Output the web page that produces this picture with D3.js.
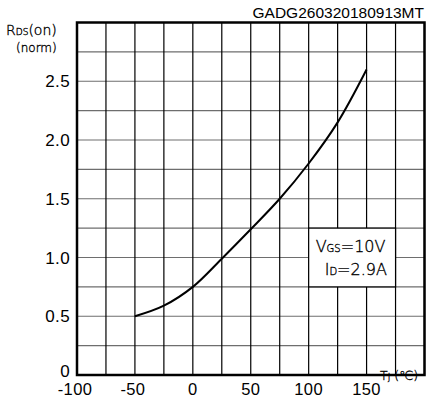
<!DOCTYPE html>
<html>
<head>
<meta charset="utf-8">
<script src="https://cdn.jsdelivr.net/npm/d3@7"></script>
<style>
  body { margin: 0; background: #fff; }
  svg { display: block; }
  text { font-family: "Liberation Sans", Arial, sans-serif; fill: #000; }
  .thin { font-family: "DejaVu Sans", sans-serif; font-weight: 200; fill: #000; stroke: #000; stroke-width: 0.35px; }
</style>
</head>
<body>
<div id="chart"></div>
<script>
// temperature (C) vs normalized on-resistance
const temps = [-50, -25, 0, 25, 50, 75, 100, 125, 150];
const rdsNorm = [0.5, 0.59, 0.75, 0.99, 1.24, 1.5, 1.8, 2.15, 2.6];

const xTicks = [-100, -50, 0, 50, 100, 150];
const yTicks = [0, 0.5, 1.0, 1.5, 2.0, 2.5];
const xGrid = d3.range(-100, 201, 25);
const yGrid = d3.range(0, 3.01, 0.25);

const width = 432, height = 405;
const plotL = 77, plotR = 424.5, plotT = 22.5, plotB = 375;

const svg = d3.select("#chart").append("svg")
    .attr("width", width)
    .attr("height", height);

const x = d3.scaleLinear().domain([-100, 200]).range([plotL, plotR]);
const y = d3.scaleLinear().domain([0, 3]).range([plotB, plotT]);

// grid
svg.append("g").selectAll("line")
    .data(yGrid)
    .enter().append("line")
    .attr("x1", plotL).attr("x2", plotR)
    .attr("y1", d => y(d)).attr("y2", d => y(d))
    .attr("stroke", "#6e6e6e")
    .attr("stroke-width", 1.2);

svg.append("g").selectAll("line")
    .data(xGrid)
    .enter().append("line")
    .attr("x1", d => x(d)).attr("x2", d => x(d))
    .attr("y1", plotT).attr("y2", plotB)
    .attr("stroke", "#000")
    .attr("stroke-width", 1.2);

// condition box (covers grid)
svg.append("rect")
    .attr("x", x(100)).attr("y", y(1.25))
    .attr("width", x(175) - x(100))
    .attr("height", y(0.75) - y(1.25))
    .attr("fill", "#fff")
    .attr("stroke", "#000")
    .attr("stroke-width", 1.2);

const vgs = svg.append("text").attr("class", "thin")
    .attr("x", x(100) + 7).attr("y", y(1.25) + 24)
    .style("font-size", "16px");
vgs.append("tspan").text("V");
vgs.append("tspan").text("GS").style("font-size", "10px");
vgs.append("tspan").text("=10V");

const idt = svg.append("text").attr("class", "thin")
    .attr("x", x(100) + 16).attr("y", y(1.25) + 47)
    .style("font-size", "16px");
idt.append("tspan").text("I");
idt.append("tspan").text("D").style("font-size", "10px");
idt.append("tspan").text("=2.9A");

// frame
svg.append("rect")
    .attr("x", plotL).attr("y", plotT)
    .attr("width", plotR - plotL).attr("height", plotB - plotT)
    .attr("fill", "none")
    .attr("stroke", "#000")
    .attr("stroke-width", 2.5);

// curve
const line = d3.line()
    .x((d, i) => x(temps[i]))
    .y(d => y(d))
    .curve(d3.curveCatmullRom);

svg.append("path")
    .datum(rdsNorm)
    .attr("d", line)
    .attr("fill", "none")
    .attr("stroke", "#000")
    .attr("stroke-width", 2);

// tick labels
svg.append("g").selectAll("text")
    .data(yTicks)
    .enter().append("text")
    .attr("x", 70)
    .attr("y", d => y(d) + (d === 0 ? 2 : 6))
    .attr("text-anchor", "end")
    .style("font-size", "17px")
    .style("letter-spacing", "0.4px")
    .text(d => d === 0 ? "0" : d.toFixed(1));

svg.append("g").selectAll("text")
    .data(xTicks)
    .enter().append("text")
    .attr("x", d => x(d) - (d < 0 ? 2 : 0))
    .attr("y", 395)
    .attr("text-anchor", "middle")
    .style("font-size", "16.5px")
    .style("letter-spacing", "0.4px")
    .text(d => d < 0 ? "-" + Math.abs(d) : d);

// axis titles
const tj = svg.append("text").attr("class", "thin")
    .attr("x", 380).attr("y", 380)
    .style("font-size", "12.5px");
tj.append("tspan").text("T");
tj.append("tspan").text("J").style("font-size", "9px");
tj.append("tspan").text(" (\u2103)");

const rds = svg.append("text").attr("class", "thin")
    .attr("x", 6).attr("y", 35)
    .style("font-size", "14px");
rds.append("tspan").text("R");
rds.append("tspan").text("DS").style("font-size", "9px");
rds.append("tspan").text("(on)");

svg.append("text").attr("class", "thin")
    .attr("x", 16).attr("y", 52)
    .style("font-size", "12px")
    .text("(norm)");

// part number
svg.append("text")
    .attr("x", 424).attr("y", 18)
    .attr("text-anchor", "end")
    .style("font-size", "15.5px")
    .text("GADG260320180913MT");
</script>
</body>
</html>
